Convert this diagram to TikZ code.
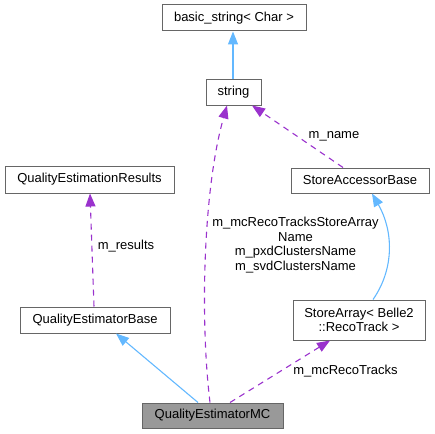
\documentclass[tikz,border=0pt]{standalone}
\usepackage{fontspec}
\setmainfont{Liberation Sans}
\usetikzlibrary{arrows.meta}
\definecolor{inhblue}{HTML}{63B8FF}
\definecolor{usepurple}{HTML}{9A32CD}
\definecolor{boxgray}{HTML}{666666}
\definecolor{mcfill}{HTML}{999999}
\tikzset{
  cls/.style={draw=boxgray, line width=1pt, fill=white, inner sep=0pt, align=center,
    font=\fontsize{13}{14.5}\selectfont},
  inh/.style={draw=inhblue, line width=1.1pt, -{Triangle[length=13pt,width=10pt]}},
  usage/.style={draw=usepurple, line width=1.1pt, dash pattern=on 6pt off 5pt,
    -{Triangle[length=13pt,width=10pt]}},
  lbl/.style={align=center, inner sep=0pt, font=\fontsize{13}{14.5}\selectfont},
}
\begin{document}
\begin{tikzpicture}[x=1pt,y=-1pt]
\useasboundingbox (0,0) rectangle (435,433);
\node[cls, minimum width=144pt, minimum height=26pt] (basic) at (234,18) {basic\_string< Char >};
\node[cls, minimum width=55pt, minimum height=25pt] (str) at (233.5,92.5) {string};
\node[cls, minimum width=138pt, minimum height=25pt] (sab) at (360,180.5) {StoreAccessorBase};
\node[cls, minimum width=169pt, minimum height=27pt] (qer) at (89.5,179.5) {QualityEstimationResults};
\node[cls, minimum width=150pt, minimum height=26pt] (qeb) at (95,320) {QualityEstimatorBase};
\node[cls, minimum width=132pt, minimum height=40pt] (sa) at (359,320) {StoreArray< Belle2\\::RecoTrack >};
\node[cls, fill=mcfill, minimum width=141pt, minimum height=25pt] (mc) at (212.5,415.5) {QualityEstimatorMC};

% inheritance
\draw[inh] ([xshift=-0.5pt]str.north) -- ([xshift=-1pt]basic.south);
\draw[inh] ([xshift=-14.5pt]mc.north) -- ([xshift=21pt]qeb.south);
\draw[inh] ([xshift=14pt]sa.north) .. controls (395,268) and (393,230) .. ([xshift=12pt]sab.south);

% usage
\draw[usage] ([xshift=-1pt]qeb.north) -- ([xshift=0.5pt]qer.south);
\node[lbl] (lres) at (126,246) {m\_results};
\draw[usage] ([xshift=-17pt]sab.north) -- ([xshift=18.5pt]str.south);
\node[lbl] (lname) at (334,136) {m\_name};
\draw[usage] ([xshift=-2.5pt]mc.north) .. controls (200,320) and (203,190) .. ([xshift=-6.5pt]str.south);
\node[lbl] (lmulti) at (295.5,245) {m\_mcRecoTracksStoreArray\\Name\\m\_pxdClustersName\\m\_svdClustersName};
\draw[usage] ([xshift=17.5pt]mc.north) -- ([xshift=-29pt]sa.south);
\node[lbl] (lmc) at (345.5,371) {m\_mcRecoTracks};
\end{tikzpicture}
\end{document}
